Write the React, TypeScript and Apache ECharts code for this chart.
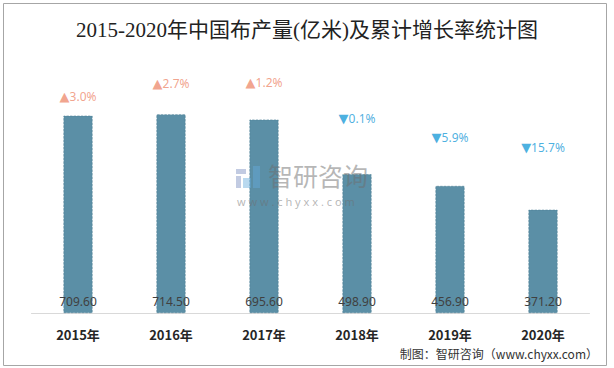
import React, { useEffect, useRef } from "react";
import * as echarts from "echarts";

const categories = ["2015年", "2016年", "2017年", "2018年", "2019年", "2020年"];
const output = [709.6, 714.5, 695.6, 498.9, 456.9, 371.2];
const growth = [3.0, 2.7, 1.2, -0.1, -5.9, -15.7];
// vertical anchor (in axis units) of each growth label, as placed in the picture
const growthLabelLevel = [778, 824, 830, 698, 631, 595];

const UP = "#EE8C70";
const DOWN = "#1C9CD8";

export default function App() {
  const ref = useRef<HTMLDivElement>(null);
  useEffect(() => {
    if (!ref.current) return;
    const chart = echarts.init(ref.current, null, { renderer: "svg" });
    const wm = "rgba(110,110,110,0.5)";
    chart.setOption({
      animation: false,
      backgroundColor: "#ffffff",
      title: {
        text: "2015-2020年中国布产量(亿米)及累计增长率统计图",
        left: "center",
        top: 14,
        textStyle: {
          fontFamily: "'Liberation Serif', 'Noto Sans CJK SC', serif",
          fontSize: 21,
          fontWeight: "normal",
          color: "#222",
        },
      },
      grid: { left: 31.5, right: 24.5, top: 35, bottom: 55 },
      xAxis: {
        type: "category",
        data: categories,
        axisTick: { show: false },
        axisLine: { lineStyle: { color: "#d9d9d9", width: 1 } },
        axisLabel: {
          margin: 15,
          fontSize: 13,
          fontWeight: "bold",
          color: "#262626",
          fontFamily: "'Noto Sans CJK SC', sans-serif",
        },
      },
      yAxis: {
        type: "value",
        min: 0,
        max: 1000,
        show: false,
        splitLine: { show: false },
      },
      graphic: [
        {
          type: "rect",
          shape: { x: 3.5, y: 3.5, width: 603, height: 362 },
          style: { fill: "none", stroke: "#a6a6a6", lineWidth: 1 },
          z: 100,
        },
        {
          type: "text",
          right: 16,
          top: 347,
          style: {
            text: "制图：智研咨询（www.chyxx.com）",
            fontSize: 12,
            fill: "#333",
            fontFamily: "'Noto Sans CJK SC', 'Liberation Mono', monospace",
          },
          z: 100,
        },
        { type: "rect", z: 50, shape: { x: 236, y: 169, width: 10, height: 5 }, style: { fill: "rgba(120,140,190,0.45)" } },
        { type: "rect", z: 50, shape: { x: 236, y: 176, width: 5, height: 12 }, style: { fill: "rgba(120,140,190,0.45)" } },
        { type: "rect", z: 50, shape: { x: 243, y: 178, width: 8, height: 10 }, style: { fill: "rgba(100,170,220,0.45)" } },
        { type: "rect", z: 50, shape: { x: 253, y: 166, width: 7, height: 22 }, style: { fill: "rgba(100,170,220,0.45)" } },
        {
          type: "text",
          z: 50,
          x: 268,
          y: 162,
          style: {
            text: "智研咨询",
            fontSize: 25,
            lineHeight: 26,
            fill: wm,
            fontFamily: "'Noto Sans CJK SC', sans-serif",
          },
        },
        {
          type: "text",
          z: 50,
          x: 237,
          y: 196,
          style: {
            text: "w w w . c h y x x . c o m",
            fontSize: 11,
            lineHeight: 11,
            fill: wm,
            fontFamily: "'Noto Sans', sans-serif",
          },
        },
      ],
      series: [
        {
          type: "bar",
          data: output,
          barWidth: 29,
          itemStyle: {
            color: "#5B8FA6",
            borderColor: "#4d7f96",
            borderWidth: 0.6,
            borderType: "dashed",
          },
          label: {
            show: true,
            position: "insideBottom",
            distance: 6,
            formatter: (p: any) => Number(p.value).toFixed(2),
            fontSize: 12,
            color: "#404040",
            fontFamily: "'Noto Sans', sans-serif",
          },
          z: 2,
        },
        {
          type: "scatter",
          data: growthLabelLevel,
          symbolSize: 1,
          itemStyle: { color: "rgba(0,0,0,0)" },
          label: {
            show: true,
            position: "inside",
            fontSize: 12,
            formatter: (p: any) => {
              const g = growth[p.dataIndex];
              return g >= 0
                ? `{ut|▲}{u|${g.toFixed(1)}%}`
                : `{dt|▼}{d|${Math.abs(g).toFixed(1)}%}`;
            },
            rich: {
              ut: { color: UP, fontSize: 13, fontFamily: "'DejaVu Sans', sans-serif" },
              u: { color: UP, fontSize: 12, fontFamily: "'Noto Sans', sans-serif" },
              dt: { color: DOWN, fontSize: 13, fontFamily: "'DejaVu Sans', sans-serif" },
              d: { color: DOWN, fontSize: 12, fontFamily: "'Noto Sans', sans-serif" },
            },
          },
          z: 5,
        },
      ],
    });
    return () => chart.dispose();
  }, []);
  return <div ref={ref} style={{ width: 614, height: 368, position: "absolute", left: 0, top: 0 }} />;
}
